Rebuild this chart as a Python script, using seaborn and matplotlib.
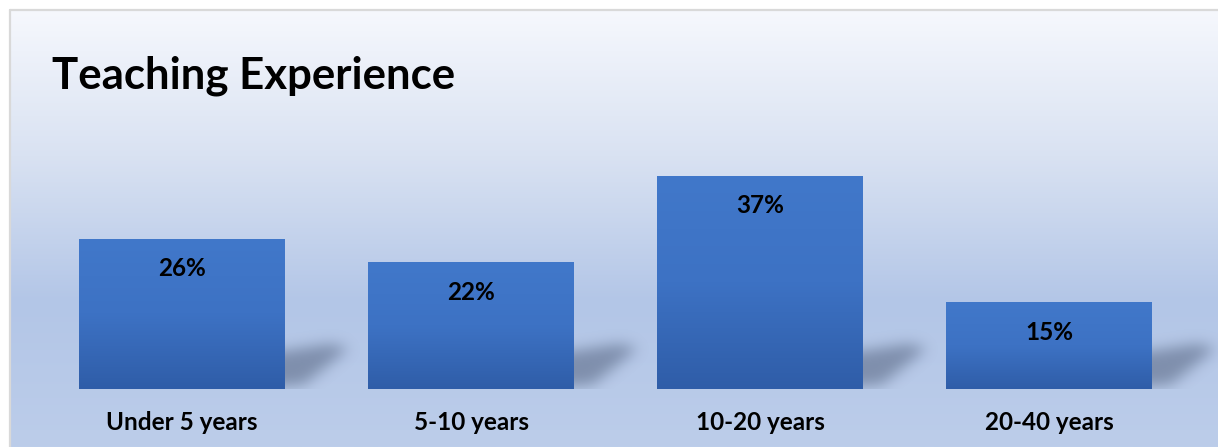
import numpy as np
import matplotlib
matplotlib.use("Agg")
import matplotlib.pyplot as plt
from matplotlib.colors import LinearSegmentedColormap
from matplotlib.path import Path
import seaborn as sns

categories = ["Under 5 years", "5-10 years", "10-20 years", "20-40 years"]
values = [26, 22, 37, 15]
value_labels = ["26%", "22%", "37%", "15%"]
title = "Teaching Experience"

W, H = 1218, 447
FONT = ["Lato", "DejaVu Sans"]

sns.set_theme(style="white")
plt.rcParams["font.family"] = FONT

fig = plt.figure(figsize=(W / 100, H / 100), dpi=100)
fig.patch.set_facecolor("white")

# background gradient panel
bx0 = 10 / W
bg = fig.add_axes([bx0, 0, 1 - bx0, 1 - 10 / H])
bg_cmap = LinearSegmentedColormap.from_list("bg", ["#F6F8FD", "#D9E2F2", "#B3C6E7", "#BCCDEA"], N=256)
grad = np.linspace(0, 1, 256).reshape(-1, 1)
bg.imshow(grad, cmap=bg_cmap, aspect="auto", extent=[0, 1, 0, 1], origin="upper")
bg.set_xlim(0, 1); bg.set_ylim(0, 1)
bg.set_axis_off()
fig.add_artist(plt.Line2D([bx0, 1], [1 - 10 / H, 1 - 10 / H], color="#D9D9D9", lw=1.6))
fig.add_artist(plt.Line2D([bx0, bx0], [0, 1 - 10 / H], color="#D9D9D9", lw=1.6))

# main axes
base_px, top_px = 389, 10
ax = fig.add_axes([10 / W, (H - base_px) / H, 1 - 10 / W, (base_px - top_px) / H])
ax.patch.set_alpha(0)
bar_w = 206 / 289
sns.barplot(x=categories, y=values, color="#3C70C2", width=bar_w, ax=ax,
            saturation=1, linewidth=0, edgecolor="none")
bars = list(ax.patches)
px_per_unit = 5.77
ux = 1 / 289  # data units per pixel (x)
uy = 1 / px_per_unit  # data units per pixel (y)


def gauss_blur(a, sigma):
    r = int(3 * sigma)
    k = np.exp(-0.5 * (np.arange(-r, r + 1) / sigma) ** 2)
    k /= k.sum()
    a = np.apply_along_axis(lambda m: np.convolve(m, k, mode="same"), 0, a)
    a = np.apply_along_axis(lambda m: np.convolve(m, k, mode="same"), 1, a)
    return a


# soft shadow (pixel-space mask, relative to bar right edge / baseline)
off = 40
sw, sh = 150, 80
xs = np.arange(sw) + 0.5 - off
ys = np.arange(sh) + 0.5
XX, YY = np.meshgrid(xs, ys)
poly = Path([(-30, 2), (-30, 34), (45, 45), (64, 41), (18, 4)])
mask = poly.contains_points(np.c_[XX.ravel(), YY.ravel()]).reshape(sh, sw).astype(float)
mask = gauss_blur(mask, 7)
shadow_rgba = np.zeros((sh, sw, 4))
shadow_rgba[..., :3] = np.array([0x3A, 0x48, 0x63]) / 255
shadow_rgba[..., 3] = np.clip(mask * 0.45, 0, 1)
for p in bars:
    xr = p.get_x() + p.get_width()
    ax.imshow(shadow_rgba, aspect="auto", origin="lower", zorder=1,
              extent=[xr - off * ux, xr + (sw - off) * ux, 0, sh * uy], interpolation="bilinear")

# bar gradients
bar_cmap = LinearSegmentedColormap.from_list("bar", ["#4178CA", "#3D72C4", "#2F5DA8"], N=256)
for p in bars:
    x0, w, h = p.get_x(), p.get_width(), p.get_height()
    p.set_zorder(2)
    im = ax.imshow(grad, cmap=bar_cmap, aspect="auto", extent=[x0, x0 + w, 0, h],
                   origin="upper", zorder=3)
    im.set_clip_path(p)
ax.set_xlim(-172 / 289, 3 + 169 / 289)
ax.set_ylim(0, (base_px - top_px) / px_per_unit)

for i, (v, lab) in enumerate(zip(values, value_labels)):
    ax.text(i, v - 30 * uy, lab, ha="center", va="center", fontsize=17.5,
            fontweight="bold", color="black", zorder=5)

ax.set_xlabel(""); ax.set_ylabel("")
ax.set_yticks([])
ax.tick_params(axis="x", length=0, pad=16)
for t in ax.get_xticklabels():
    t.set_fontsize(17.5); t.set_fontweight("bold"); t.set_color("black")
for s in ax.spines.values():
    s.set_visible(False)

fig.text(52 / W, 1 - 88 / H, title, fontsize=31.5, fontweight="bold", color="black",
         ha="left", va="baseline")

fig.savefig("out.png", dpi=100)
